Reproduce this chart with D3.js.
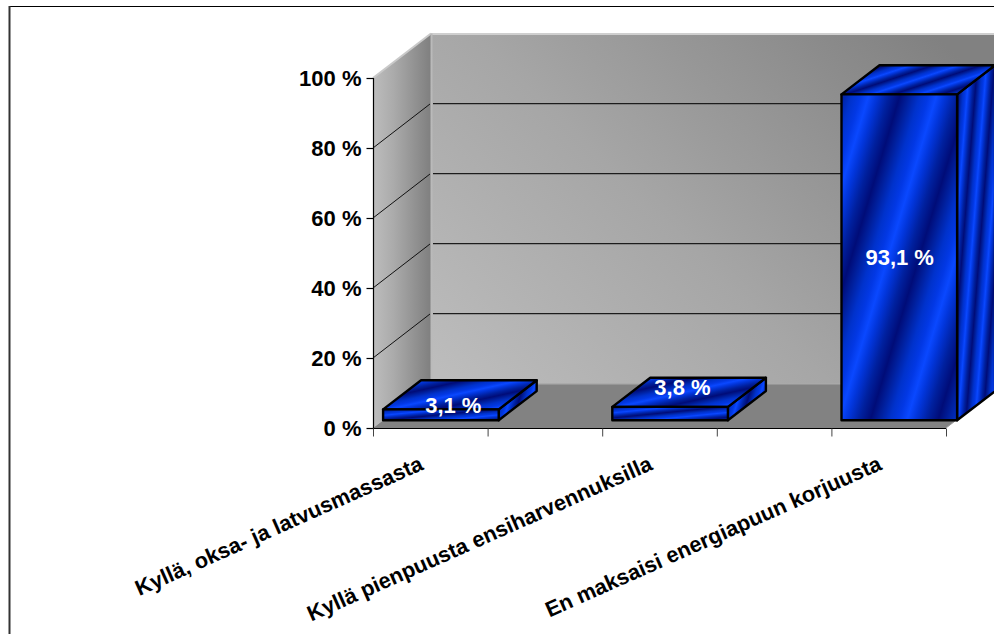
<!DOCTYPE html>
<html>
<head>
<meta charset="utf-8">
<script src="https://cdnjs.cloudflare.com/ajax/libs/d3/7.8.5/d3.min.js"></script>
<style>
  html, body { margin: 0; padding: 0; background: #fff; }
  svg { display: block; }
  text { font-family: "Liberation Sans", Arial, sans-serif; font-weight: bold; }
</style>
</head>
<body>
<svg id="chart" width="994" height="634"></svg>
<script>
// Share of answers per category, in percent
const categories = [
  "Kyllä, oksa- ja latvusmassasta",
  "Kyllä pienpuusta ensiharvennuksilla",
  "En maksaisi energiapuun korjuusta"
];
const values = [3.1, 3.8, 93.1];
const valueLabels = ["3,1 %", "3,8 %", "93,1 %"];
const yTicks = [0, 20, 40, 60, 80, 100];
const yTickLabels = ["0 %", "20 %", "40 %", "60 %", "80 %", "100 %"];

// Plot box and oblique depth projection; the floor stops halfway through the last band
const plot = { left: 373, right: 946, top: 78, bottom: 428, depthX: 58, depthY: -44.5 };
const bandsShown = 2.5;
const barZ = [0.175, 0.83];
const labelShift = [[22.5, -10], [22.5, -26], [10.5, 0]];
const fontSize = "22px";
const categoryFontSize = "21.7px";

const svg = d3.select("#chart");
const defs = svg.append("defs");

const step = (plot.right - plot.left) / bandsShown;
const x = d3.scaleBand().domain(categories).range([plot.left, plot.left + step * categories.length]);
const y = d3.scaleLinear().domain([0, 100]).range([plot.bottom, plot.top]);
const halfSteps = d3.scaleLinear().domain([0, bandsShown]).range([plot.left, plot.right]);

const project = (px, py, z) => [px + plot.depthX * z, py + plot.depthY * z];
const poly = pts => pts.map(p => p.map(v => v.toFixed(1)).join(",")).join(" ");

// Frame
svg.append("line").attr("x1", 9).attr("y1", 6.5).attr("x2", 994).attr("y2", 6.5).attr("stroke", "#000").attr("stroke-width", 1);
svg.append("line").attr("x1", 9.5).attr("y1", 6).attr("x2", 9.5).attr("y2", 634).attr("stroke", "#333").attr("stroke-width", 2);

// Wall and floor shading
function linear(id, x1, y1, x2, y2, stops) {
  const g = defs.append("linearGradient").attr("id", id).attr("gradientUnits", "userSpaceOnUse")
    .attr("x1", x1).attr("y1", y1).attr("x2", x2).attr("y2", y2);
  stops.forEach(s => g.append("stop").attr("offset", s[0]).attr("stop-color", s[1]));
}
linear("wallGrad", 470, 400, 880, -20, [[0, "#bcbcbc"], [0.45, "#a6a6a6"], [1, "#818181"]]);
linear("sideGrad", 373, 0, 431, 0, [[0, "#bdbdbd"], [0.35, "#ababab"], [1, "#7f7f7f"]]);

const backLeftTop = project(plot.left, plot.top, 1);
const backLeftBottom = project(plot.left, plot.bottom, 1);
const frontRight = [plot.right, plot.bottom];
const backRight = project(plot.right, plot.bottom, 1);

svg.append("rect")
  .attr("x", backLeftTop[0]).attr("y", backLeftTop[1])
  .attr("width", 994 - backLeftTop[0]).attr("height", backLeftBottom[1] - backLeftTop[1])
  .attr("fill", "url(#wallGrad)");
svg.append("polygon")
  .attr("points", poly([[plot.left, plot.top], backLeftTop, backLeftBottom, [plot.left, plot.bottom]]))
  .attr("fill", "url(#sideGrad)");
svg.append("polygon")
  .attr("points", poly([[plot.left, plot.bottom], backLeftBottom, backRight, frontRight]))
  .attr("fill", "#828282");

// Pale edges where the walls and floor meet
const edge = "#c9c9c9";
svg.append("line").attr("x1", backLeftTop[0]).attr("y1", backLeftTop[1] + 0.5).attr("x2", 994).attr("y2", backLeftTop[1] + 0.5).attr("stroke", "#cfcfcf").attr("stroke-width", 2);
svg.append("line").attr("x1", plot.left).attr("y1", plot.top).attr("x2", backLeftTop[0]).attr("y2", backLeftTop[1]).attr("stroke", edge).attr("stroke-width", 2);
svg.append("line").attr("x1", backLeftTop[0] + 0.5).attr("y1", backLeftTop[1]).attr("x2", backLeftTop[0] + 0.5).attr("y2", backLeftBottom[1]).attr("stroke", "#bababa").attr("stroke-width", 2);
svg.append("line").attr("x1", backLeftBottom[0]).attr("y1", backLeftBottom[1] + 0.5).attr("x2", 994).attr("y2", backLeftBottom[1] + 0.5).attr("stroke", "#a9a9a9").attr("stroke-width", 1);
svg.append("line").attr("x1", frontRight[0]).attr("y1", frontRight[1]).attr("x2", backRight[0]).attr("y2", backRight[1]).attr("stroke", "#9a9a9a").attr("stroke-width", 1);

// Gridlines across the side wall and the back wall
const gridValues = yTicks.filter(t => t > 0 && t < 100);
const grid = svg.append("g").attr("class", "grid");
gridValues.forEach(t => {
  const back = project(plot.left, y(t), 1);
  const wallY = Math.floor(back[1]) + 0.5;
  grid.append("line").attr("x1", plot.left).attr("y1", y(t)).attr("x2", back[0] - 1).attr("y2", back[1] + 0.5)
    .attr("stroke", "#111").attr("stroke-width", 1);
  grid.append("line").attr("x1", back[0] + 2).attr("y1", wallY).attr("x2", 994).attr("y2", wallY)
    .attr("stroke", "#1c1c1c").attr("stroke-width", 1);
  grid.append("line").attr("x1", back[0] + 2).attr("y1", wallY + 1).attr("x2", 994).attr("y2", wallY + 1)
    .attr("stroke", "#000").attr("stroke-opacity", 0.2).attr("stroke-width", 1);
});

// Axes
const yAxis = d3.axisLeft(y).tickValues(yTicks).tickSize(7).tickPadding(5)
  .tickFormat((d, i) => yTickLabels[i]);
const gy = svg.append("g").attr("transform", `translate(${plot.left + 0.5},0)`).call(yAxis);
gy.select(".domain").attr("stroke", "#000").attr("stroke-width", 1.2).attr("d", `M0,${plot.top}V${plot.bottom}`);
gy.selectAll(".tick line").attr("stroke", "#000").attr("stroke-width", 1.2);
gy.selectAll(".tick text").attr("fill", "#000").style("font-size", fontSize).style("font-weight", "bold")
  .style("font-family", '"Liberation Sans", Arial, sans-serif');

const xTickValues = d3.range(0, bandsShown + 0.25, 0.5);
const xAxis = d3.axisBottom(halfSteps).tickValues(xTickValues).tickSize(8).tickFormat("");
const gx = svg.append("g").attr("transform", `translate(0,${plot.bottom + 0.5})`).call(xAxis);
gx.select(".domain").attr("stroke", "#000").attr("stroke-width", 1).attr("d", `M${plot.left},0H${plot.right}`);
gx.selectAll(".tick line").attr("stroke", "#444").attr("stroke-width", 1);

// Satin stripes on the bar faces
const satinStops = [
  [0, "#0a48ff"], [0.12, "#0236dc"], [0.3, "#00209e"], [0.46, "#000c78"],
  [0.6, "#00209e"], [0.75, "#0032cc"], [0.88, "#0238e4"], [1, "#0a48ff"]
];
function stripes(id, ox, oy, nx, ny, period) {
  // n is the stripe normal; the gradient vector length sets one repeat along it
  const len = Math.hypot(nx, ny);
  const g = defs.append("linearGradient").attr("id", id).attr("gradientUnits", "userSpaceOnUse")
    .attr("spreadMethod", "repeat")
    .attr("x1", ox).attr("y1", oy)
    .attr("x2", ox + nx / len * period).attr("y2", oy + ny / len * period);
  satinStops.forEach(s => g.append("stop").attr("offset", s[0]).attr("stop-color", s[1]));
  return `url(#${id})`;
}

const bars = svg.append("g").attr("class", "bars");
const barWidth = x.bandwidth() / 2 + 1;
categories.forEach((c, i) => {
  const left = x(c);
  const right = left + barWidth;
  const yTop = y(values[i]);
  const yBase = y(0);
  const a = project(left, yBase, barZ[0]), b = project(right, yBase, barZ[0]);
  const d = project(left, yTop, barZ[0]), e = project(right, yTop, barZ[0]);
  const f = project(left, yTop, barZ[1]), g = project(right, yTop, barZ[1]);
  const h = project(right, yBase, barZ[1]);
  const tall = values[i] > 50;

  const frontFill = tall
    ? stripes(`front${i}`, d[0] + 26, d[1] + 5, 1, 0.3, 65)
    : stripes(`front${i}`, d[0], d[1] + 6, 0.1, 1, 11);
  const topFill = tall
    ? stripes(`top${i}`, d[0] + 60, d[1] - 10, 0.33, 1, 15)
    : stripes(`top${i}`, d[0] + 60, d[1] - 12, 0.22, 1, 22);
  const sideFill = tall
    ? stripes(`side${i}`, e[0] + 10, e[1], 1, 0.08, 17)
    : stripes(`side${i}`, e[0] + 8, e[1], 1, 0.3, 20);

  const stroke = sel => sel.attr("stroke", "#000").attr("stroke-width", 2.4).attr("stroke-linejoin", "round");
  stroke(bars.append("polygon").attr("points", poly([b, e, g, h])).attr("fill", sideFill));
  stroke(bars.append("polygon").attr("points", poly([d, e, g, f])).attr("fill", topFill));
  stroke(bars.append("polygon").attr("points", poly([a, b, e, d])).attr("fill", frontFill));

  svg.append("text")
    .attr("x", (left + right) / 2 + labelShift[i][0])
    .attr("y", (yTop + yBase) / 2 + plot.depthY * barZ[0] + labelShift[i][1])
    .attr("dy", "0.36em")
    .attr("text-anchor", "middle")
    .attr("fill", "#fff")
    .style("font-size", fontSize)
    .text(valueLabels[i]);
});

// Slanted category labels, ending under the middle tick of each band
const labels = svg.append("g").attr("class", "category-labels");
categories.forEach(c => {
  const ax = x(c) + x.bandwidth() / 2 - 63;
  labels.append("text")
    .attr("transform", `translate(${ax},${plot.bottom + 41}) rotate(-24)`)
    .attr("text-anchor", "end")
    .attr("fill", "#000")
    .style("font-size", categoryFontSize)
    .text(c);
});
</script>
</body>
</html>
